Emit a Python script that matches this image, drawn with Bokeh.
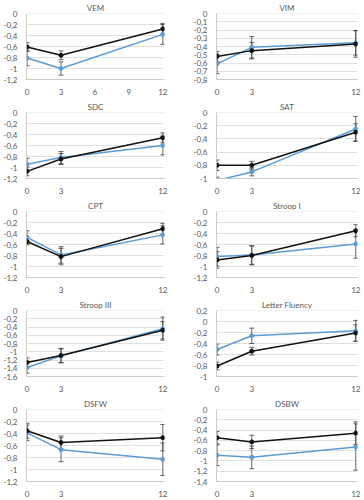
from bokeh.plotting import figure
from bokeh.layouts import gridplot
from bokeh.models import FixedTicker, CustomJSTickFormatter, Range1d, AllLabels
from bokeh.embed import file_html
from bokeh.resources import INLINE

# ---------------- data ----------------
months = [0, 3, 12]

titles = ["VEM", "VIM", "SDC", "SAT", "CPT", "Stroop I", "Stroop III",
          "Letter Fluency", "DSFW", "DSBW"]

vem_black = [-0.61, -0.76, -0.28]
vem_black_err = [0.08, 0.08, 0.10]
vem_blue = [-0.81, -1.00, -0.38]
vem_blue_err = [0.14, 0.12, 0.18]

vim_black = [-0.52, -0.45, -0.37]
vim_black_err = [0.06, 0.10, 0.16]
vim_blue = [-0.61, -0.41, -0.355]
vim_blue_err = [0.12, 0.13, 0.15]

sdc_black = [-1.07, -0.845, -0.46]
sdc_black_err = [0.08, 0.10, 0.09]
sdc_blue = [-0.94, -0.82, -0.60]
sdc_blue_err = [0.11, 0.11, 0.17]

sat_black = [-0.80, -0.80, -0.30]
sat_black_err = [0.08, 0.06, 0.13]
sat_blue = [-1.03, -0.90, -0.25]
sat_blue_err = [0.05, 0.06, 0.19]

cpt_black = [-0.545, -0.82, -0.315]
cpt_black_err = [0.06, 0.15, 0.10]
cpt_blue = [-0.47, -0.79, -0.425]
cpt_blue_err = [0.12, 0.15, 0.165]

stroop1_black = [-0.88, -0.80, -0.35]
stroop1_black_err = [0.15, 0.17, 0.11]
stroop1_blue = [-0.82, -0.79, -0.59]
stroop1_blue_err = [0.17, 0.17, 0.26]

stroop3_black = [-1.26, -1.09, -0.48]
stroop3_black_err = [0.11, 0.17, 0.21]
stroop3_blue = [-1.38, -1.10, -0.44]
stroop3_blue_err = [0.14, 0.17, 0.28]

lf_black = [-0.81, -0.54, -0.21]
lf_black_err = [0.07, 0.07, 0.15]
lf_blue = [-0.51, -0.26, -0.17]
lf_blue_err = [0.10, 0.14, 0.19]

dsfw_black = [-0.355, -0.55, -0.47]
dsfw_black_err = [0.125, 0.11, 0.22]
dsfw_blue = [-0.39, -0.67, -0.83]
dsfw_blue_err = [0.13, 0.20, 0.27]

dsbw_black = [-0.55, -0.63, -0.46]
dsbw_black_err = [0.12, 0.13, 0.22]
dsbw_blue = [-0.89, -0.93, -0.73]
dsbw_blue_err = [0.20, 0.22, 0.45]

# y axis settings per panel: top, bottom, step
y_tops = [0, 0, 0, 0, 0, 0, 0, 0.2, 0, 0]
y_bottoms = [-1.2, -0.8, -1.2, -1.0, -1.2, -1.2, -1.6, -1.0, -1.2, -1.4]
y_steps = [0.2, 0.1, 0.2, 0.2, 0.2, 0.2, 0.2, 0.2, 0.2, 0.2]
x_ticks_vem = [0, 3, 6, 9, 12]
x_ticks_other = [0, 3, 12]

series = [
    (vem_black, vem_black_err, vem_blue, vem_blue_err),
    (vim_black, vim_black_err, vim_blue, vim_blue_err),
    (sdc_black, sdc_black_err, sdc_blue, sdc_blue_err),
    (sat_black, sat_black_err, sat_blue, sat_blue_err),
    (cpt_black, cpt_black_err, cpt_blue, cpt_blue_err),
    (stroop1_black, stroop1_black_err, stroop1_blue, stroop1_blue_err),
    (stroop3_black, stroop3_black_err, stroop3_blue, stroop3_blue_err),
    (lf_black, lf_black_err, lf_blue, lf_blue_err),
    (dsfw_black, dsfw_black_err, dsfw_blue, dsfw_blue_err),
    (dsbw_black, dsbw_black_err, dsbw_blue, dsbw_blue_err),
]

# ---------------- style ----------------
FONT = "Lato"
TXT = "#595959"
BLUE = "#5B9BD5"
BLACK = "#111111"
ERR = "#404040"
GRID = "#D9D9D9"

fmt = CustomJSTickFormatter(code="""
let s = tick.toFixed(1);
if (s.endsWith('.0')) s = s.slice(0, -2);
if (s === '-0') s = '0';
return s.replace('.', ',');
""")

figs = []
for i, title in enumerate(titles):
    left_col = (i % 2 == 0)
    last_row = (i >= 8)
    fh = 72 if last_row else 66
    if left_col:
        fw, bl, br = 138, 15, 26
    else:
        fw, bl, br = 141, 22, 6
    top, bot, step = y_tops[i], y_bottoms[i], y_steps[i]
    p = figure(frame_width=fw, frame_height=fh, output_backend="svg",
               toolbar_location=None, min_border_left=bl, min_border_right=br,
               min_border_top=11, min_border_bottom=20,
               x_range=Range1d(-0.05, 12.15), y_range=Range1d(bot, top + 0.0001))
    p.title.text = title
    p.title.align = "center"
    p.title.text_font = FONT
    p.title.text_font_size = "8px"
    p.title.text_font_style = "normal"
    p.title.text_color = TXT
    p.title.standoff = 1
    p.title.offset = 0
    p.outline_line_color = None
    p.background_fill_color = "white"
    p.border_fill_color = "white"

    n = int(round((top - bot) / step))
    yt = [round(top - k * step, 2) for k in range(n + 1)]
    p.yaxis.ticker = FixedTicker(ticks=yt)
    p.yaxis.formatter = fmt
    p.yaxis.major_label_policy = AllLabels()
    p.xaxis.ticker = FixedTicker(ticks=x_ticks_vem if i == 0 else x_ticks_other)
    for ax in (p.xaxis, p.yaxis):
        ax.major_tick_line_color = None
        ax.minor_tick_line_color = None
        ax.major_label_text_font = FONT
        ax.major_label_text_font_size = "8px"
        ax.major_label_text_color = TXT
        ax.axis_line_color = "#BFBFBF"
        ax.axis_line_width = 0.8
        ax.major_label_standoff = 3
    p.xgrid.grid_line_color = None
    p.ygrid.grid_line_color = GRID
    p.ygrid.grid_line_width = 0.8

    bk, bke, bl_, ble = series[i]
    for vals, errs in ((bl_, ble), (bk, bke)):
        up = [v + e for v, e in zip(vals, errs)]
        lo = [v - e for v, e in zip(vals, errs)]
        p.segment(x0=months, y0=lo, x1=months, y1=up, line_color=ERR, line_width=0.8)
        p.scatter(x=months, y=up, marker="dash", size=5, line_color=ERR, line_width=0.8)
        p.scatter(x=months, y=lo, marker="dash", size=5, line_color=ERR, line_width=0.8)
    p.line(months, bl_, line_color=BLUE, line_width=1.5)
    p.scatter(months, bl_, marker="circle", size=4, fill_color=BLUE, line_color=BLUE)
    p.line(months, bk, line_color=BLACK, line_width=1.5)
    p.scatter(months, bk, marker="circle", size=4, fill_color=BLACK, line_color=BLACK)
    figs.append(p)

grid = gridplot([[figs[0], figs[1]], [figs[2], figs[3]], [figs[4], figs[5]],
                 [figs[6], figs[7]], [figs[8], figs[9]]],
                toolbar_location=None)

open("out.html", "w").write(file_html(grid, INLINE))
